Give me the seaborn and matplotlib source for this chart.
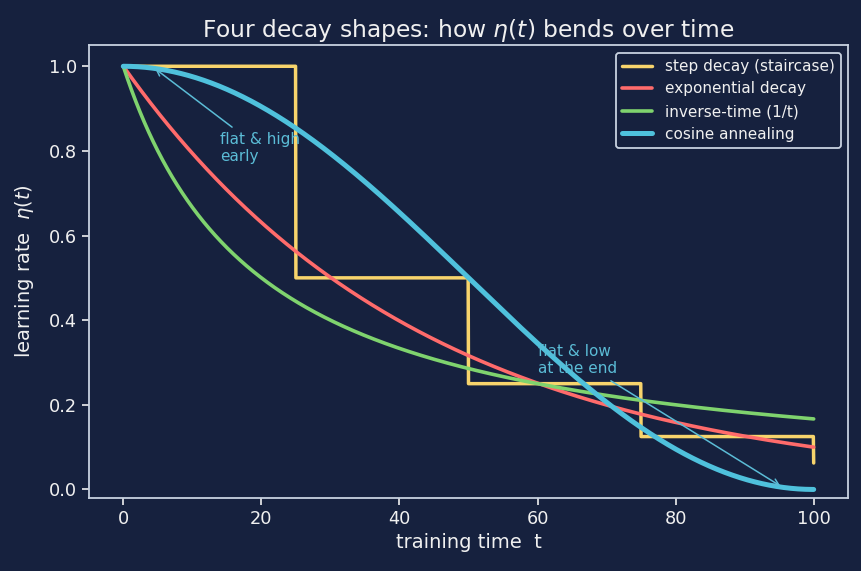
import numpy as np
import pandas as pd
import matplotlib
matplotlib.use("Agg")
import matplotlib.pyplot as plt
import seaborn as sns

# --- data (schedule parameters) ---
t_max = 100
lr0 = 1.0
step_every = 25
step_factor = 0.5
exp_final = 0.1          # exponential decay value at t=100
inv_k = 0.05             # inverse-time: 1/(1+k t) -> ~0.167 at t=100
labels = ["step decay (staircase)", "exponential decay", "inverse-time (1/t)", "cosine annealing"]
colors = ["#f7d46c", "#ff6b6b", "#7fd36e", "#4fc1dc"]
widths = [2.5, 2.6, 2.6, 3.6]

t = np.linspace(0, t_max, 2001)
step = lr0 * step_factor ** np.floor(t / step_every)
expd = lr0 * exp_final ** (t / t_max)
invt = lr0 / (1 + inv_k * t)
cosd = lr0 * 0.5 * (1 + np.cos(np.pi * t / t_max))
series = [step, expd, invt, cosd]

bg = "#16213e"
fg = "#f0f0f0"
spine = "#c8d2e0"
accent = "#5bbcd6"

sns.set_theme(style="dark")
plt.rcParams['font.family'] = ['DejaVu Sans']

fig, ax = plt.subplots(figsize=(8.62, 5.71), dpi=100)
fig.patch.set_facecolor(bg)
ax.set_facecolor(bg)

for y, lab, c, w in zip(series, labels, colors, widths):
    df = pd.DataFrame({"t": t, "lr": y})
    sns.lineplot(data=df, x="t", y="lr", ax=ax, color=c, linewidth=w, label=lab)

ax.annotate("flat & high\nearly", xy=(4.3, 0.998), xytext=(14, 0.775),
            color=accent, fontsize=11,
            arrowprops=dict(arrowstyle="->", color=accent, lw=1.1))
ax.annotate("flat & low\nat the end", xy=(95.5, 0.005), xytext=(60, 0.275),
            color=accent, fontsize=11,
            arrowprops=dict(arrowstyle="->", color=accent, lw=1.1))

ax.set_xlim(-5, 105)
ax.set_ylim(-0.02, 1.05)
ax.set_xticks([0, 20, 40, 60, 80, 100])
ax.set_yticks([0.0, 0.2, 0.4, 0.6, 0.8, 1.0])
ax.set_xlabel("training time  t", color=fg, fontsize=14)
ax.set_ylabel(r"learning rate  $\eta(t)$", color=fg, fontsize=14, labelpad=9)
ax.set_title(r"Four decay shapes: how $\eta(t)$ bends over time", color=fg, fontsize=16.8)
ax.tick_params(colors=fg, labelsize=12.8, length=5, width=1.2, bottom=True, left=True)
for s in ax.spines.values():
    s.set_visible(True)
    s.set_color(spine)
    s.set_linewidth(1.3)
ax.grid(False)

leg = ax.legend(loc="upper right", fontsize=11, facecolor=bg, edgecolor=spine,
                framealpha=1.0, labelcolor=fg, handlelength=2.0)
leg.get_frame().set_linewidth(1.3)

fig.subplots_adjust(left=0.103, right=0.984, top=0.921, bottom=0.128)
fig.savefig("out.png", dpi=100, facecolor=bg)
